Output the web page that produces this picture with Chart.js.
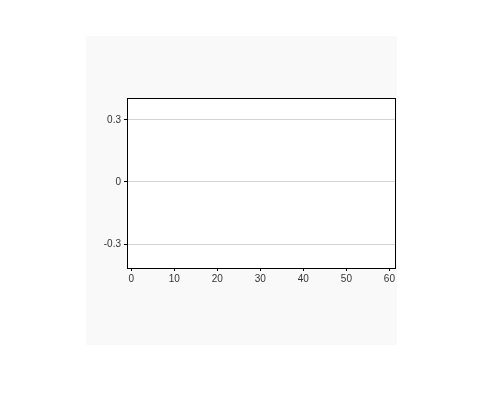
<!DOCTYPE html>
<html>
<head>
<meta charset="utf-8">
<script src="https://cdn.jsdelivr.net/npm/chart.js@4"></script>
<style>
  html, body { margin: 0; padding: 0; background: #ffffff; }
  #panel {
    position: absolute; left: 86px; top: 36px;
    width: 311px; height: 309px; background: #f9f9f9;
  }
</style>
</head>
<body>
<div id="panel"><canvas id="chart" width="311" height="309"></canvas></div>
<script>
// the source chart is empty: axes only
const xTickValues = [0, 10, 20, 30, 40, 50, 60];
const yTickValues = [-0.3, 0, 0.3];
const seriesX = [];
const seriesY = [];

const xRange = { min: -1, max: 61.3 };
const yRange = { min: -0.415, max: 0.405 };

// black frame round the plot area
const frame = {
    id: 'frame',
    beforeDraw(chart) {
        const a = chart.chartArea, ctx = chart.ctx;
        ctx.save();
        ctx.fillStyle = '#ffffff';
        ctx.fillRect(a.left, a.top, a.right - a.left, a.bottom - a.top);
        ctx.restore();
    },
    afterDraw(chart) {
        const a = chart.chartArea, ctx = chart.ctx;
        ctx.save();
        ctx.strokeStyle = '#000';
        ctx.lineWidth = 1;
        ctx.strokeRect(Math.round(a.left) + 0.5, Math.round(a.top) + 0.5,
            Math.round(a.right - a.left), Math.round(a.bottom - a.top));
        ctx.restore();
    }
};

const ctx = document.getElementById('chart').getContext('2d');
new Chart(ctx, {
    type: 'scatter',
    data: {
        datasets: [{
            data: seriesX.map((x, i) => ({ x: x, y: seriesY[i] })),
            pointRadius: 0
        }]
    },
    options: {
        responsive: false,
        animation: false,
        layout: { padding: { top: 62, right: 2, left: 0, bottom: 57 } },
        plugins: { legend: { display: false }, tooltip: { enabled: false } },
        scales: {
            x: {
                type: 'linear',
                min: xRange.min,
                max: xRange.max,
                afterBuildTicks: s => { s.ticks = xTickValues.map(v => ({ value: v })); },
                afterFit: s => { s.height = 20; },
                border: { display: false },
                grid: { drawOnChartArea: false, drawTicks: true, tickLength: 3, tickColor: '#000' },
                ticks: {
                    color: '#333',
                    padding: 2,
                    maxRotation: 0,
                    font: { family: 'Liberation Sans, Arial, sans-serif', size: 10 },
                    callback: v => String(v)
                }
            },
            y: {
                type: 'linear',
                min: yRange.min,
                max: yRange.max,
                afterBuildTicks: s => { s.ticks = yTickValues.map(v => ({ value: v })); },
                afterFit: s => { s.width = 41; },
                border: { display: false },
                grid: { color: '#d3d3d3', drawTicks: true, tickLength: 3, tickColor: '#000' },
                ticks: {
                    color: '#333',
                    padding: 3,
                    font: { family: 'Liberation Sans, Arial, sans-serif', size: 10 },
                    callback: v => String(v)
                }
            }
        }
    },
    plugins: [frame]
});
</script>
</body>
</html>
